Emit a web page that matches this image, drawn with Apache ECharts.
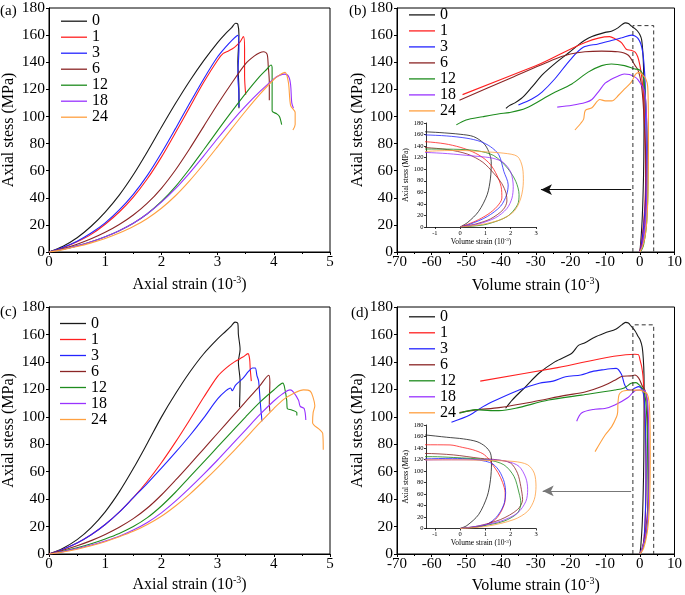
<!DOCTYPE html>
<html><head><meta charset="utf-8">
<script src="https://cdn.jsdelivr.net/npm/echarts@6/dist/echarts.min.js"></script>
<style>html,body{margin:0;padding:0;background:#fff}#c{width:685px;height:595px}</style>
</head><body><div id="c"></div>
<script>
// ---------- DATA ----------
const seriesNames = ['0','1','3','6','12','18','24'];
const seriesColors = ['#1a1a1a','#ff2020','#2424ff','#8b2525','#1e8c1e','#9933ff','#ffa040'];

// panel (a): axial strain (1e-3) vs axial stress (MPa)
const a0 = [[0,0],[0.25,4.25],[0.5,10.5],[0.75,19],[1.0,29.5],[1.25,42],[1.5,57],[1.75,74],[2.0,92],[2.25,109.5],[2.5,126],[2.75,141],[3.0,154.5],[3.15,161.5],[3.25,165.5],[3.32,168.7],[3.36,168],[3.38,160],[3.36,140],[3.38,120],[3.38,106]];
const a1 = [[0,0],[0.25,3.2],[0.5,7.5],[0.75,13],[1.0,20.5],[1.25,29.5],[1.5,40.5],[1.75,54],[2.0,70],[2.25,88],[2.5,106.5],[2.75,125],[3.0,141.5],[3.1,146.5],[3.2,148.5],[3.3,151],[3.4,155],[3.46,158.9],[3.48,150],[3.48,130],[3.5,116]];
const a3 = [[0,0],[0.25,3.5],[0.5,8],[0.75,14],[1.0,21.5],[1.25,31],[1.5,42.5],[1.75,56.5],[2.0,73],[2.25,91],[2.5,109.5],[2.75,127.5],[3.0,144],[3.15,151.5],[3.25,156],[3.36,159.8],[3.38,150],[3.36,130],[3.38,115],[3.38,107]];
const a6 = [[0,0],[0.25,2.5],[0.5,5.75],[0.75,9.75],[1.0,14.5],[1.25,20.25],[1.5,27.25],[1.75,36],[2.0,47],[2.25,60.5],[2.5,76],[2.75,92.5],[3.0,109],[3.25,124.5],[3.5,139],[3.65,144.5],[3.75,147],[3.82,147.7],[3.88,146],[3.9,138],[3.92,125],[3.92,112]];
const a12 = [[0,0],[0.25,2],[0.5,4.5],[0.75,7.5],[1.0,11.25],[1.25,15.75],[1.5,21.25],[1.75,28.25],[2.0,37.25],[2.25,48.25],[2.5,61.25],[2.75,75.25],[3.0,89.5],[3.25,103.5],[3.5,117],[3.75,129.5],[3.88,135],[3.95,138],[3.97,136],[3.97,120],[3.97,104],[4.05,102],[4.1,100],[4.14,94]];
const a18 = [[0,0],[0.25,2],[0.5,4.5],[0.75,7.5],[1.0,11.25],[1.25,15.75],[1.5,21.25],[1.75,28.25],[2.0,36.75],[2.25,46.75],[2.5,58.25],[2.75,70.75],[3.0,83.75],[3.25,96.25],[3.5,107.75],[3.75,118.25],[4.0,127.75],[4.1,130.3],[4.2,131.2],[4.27,129],[4.3,123],[4.32,110],[4.35,106]];
const a24 = [[0,0],[0.25,1.75],[0.5,4],[0.75,6.75],[1.0,10],[1.25,14],[1.5,18.75],[1.75,24.75],[2.0,32.25],[2.25,41.5],[2.5,52.5],[2.75,64.75],[3.0,77.75],[3.25,91],[3.5,104],[3.75,116.25],[4.0,127.25],[4.1,130.5],[4.2,132.5],[4.26,125],[4.3,108],[4.38,103],[4.38,94],[4.34,90]];

// panel (b): volume strain (1e-3) vs axial stress (MPa), also used by inset
const b0 = [[0,0],[0.3,8],[0.73,27],[1.07,56],[1.2,84.6],[1.23,113],[1.13,130.6],[0.93,145],[0.53,156.5],[0,160.5],[-0.8,163.4],[-1.5,165],[-2.4,166.6],[-3.3,168.5],[-4.1,169],[-5,168],[-6.2,165.5],[-8,163],[-10,162],[-13.8,159],[-16,156],[-17.6,153],[-20.5,147],[-24.5,139],[-28,131],[-31,122],[-33.8,114],[-36,110],[-37.6,108],[-38.6,106]];
const b1 = [[0,0],[0.6,10],[1.1,22],[1.45,35],[1.65,50],[1.62,70],[1.45,90],[1.2,108],[0.9,120],[0.5,130],[0,138],[-0.6,144],[-1.35,147.5],[-2.5,148.8],[-3.9,149.6],[-5.3,154.5],[-7.2,157.4],[-8.7,158.9],[-30,137.4],[-51.1,116.1]];
const b3 = [[0,0],[0.4,5],[1.07,18],[1.6,36],[1.84,56],[1.9,73],[1.73,96],[1.53,125],[1.2,139],[0.8,148],[0.27,153.6],[-0.53,157.6],[-1.4,159.4],[-2.4,160],[-5.2,158],[-8.2,156],[-12,153.5],[-16.3,151],[-20,142],[-24.4,128],[-28.2,118],[-31,113],[-35,108.4]];
const b6 = [[0,0],[0.6,5],[1.2,14],[1.7,30],[1.85,45],[1.82,58],[1.65,75],[1.35,92],[0.9,112],[0.3,126],[-0.5,134],[-1.35,137.5],[-3.4,145.3],[-6.3,147.7],[-11,148.2],[-15.8,147.7],[-20,146],[-24.4,142.4],[-38,127.5],[-52,112]];
const b12 = [[0,0],[0.5,1.5],[1.07,5],[1.87,18.4],[2.27,38.5],[2.33,56],[2.2,79],[1.87,102],[1.33,123.6],[0.67,132],[-0.27,134.6],[-1.4,135],[-4.4,137.5],[-8.2,138.7],[-11,137.5],[-14.9,132.7],[-19.6,124],[-25.3,116.8],[-32.9,106],[-37.7,102.8],[-40.5,102],[-45.3,99.8],[-50.1,97.4],[-52.9,93.8]];
const b18 = [[0,0],[0.7,5],[1.4,16],[1.85,32],[2.05,50],[2.1,70],[2.0,95],[1.7,112],[1.3,119],[1.0,121],[0.5,123],[-0.5,127],[-1.35,129],[-3,131],[-4.5,131.3],[-6.5,129.5],[-8.5,127],[-10,124.5],[-12,118],[-13.8,112.5],[-15.7,110.3],[-19.5,108.3],[-23.8,106.9]];
const b24 = [[0,0],[0.8,4],[1.6,12.7],[2.13,27],[2.4,50],[2.5,79],[2.47,102],[2.27,122],[1.73,127.7],[0.8,130.6],[0,132.5],[-0.8,132],[-1.4,130.5],[-2.4,125.5],[-4.3,120.5],[-6,116],[-8.1,111.5],[-10,111.5],[-11.5,112.5],[-13.8,106.4],[-15.7,104.5],[-16.2,98],[-17,95],[-18.7,90]];

// panel (c)
const c0 = [[0,0],[0.25,4.25],[0.5,10.5],[0.75,19.25],[1.0,30.75],[1.25,45.25],[1.5,62.25],[1.75,80.75],[2.0,99.75],[2.25,116.75],[2.5,132.25],[2.75,145.75],[3.0,156.75],[3.15,162.5],[3.25,166.5],[3.31,169],[3.36,168],[3.37,160],[3.4,149],[3.37,140],[3.4,126],[3.39,107]];
const c1 = [[0,0],[0.25,3.5],[0.5,8],[0.75,14],[1.0,21.5],[1.25,30.5],[1.5,41],[1.75,53],[2.0,66.5],[2.25,81.5],[2.5,97.5],[2.75,114],[3.0,129.5],[3.15,135.5],[3.3,140],[3.45,143.5],[3.54,146],[3.57,142],[3.58,135],[3.6,126]];
const c3 = [[0,0],[0.25,3.5],[0.5,8],[0.75,14],[1.0,21.5],[1.25,30.5],[1.5,41],[1.75,51.5],[2.0,62.5],[2.25,74],[2.5,86],[2.75,99],[3.0,113],[3.15,119],[3.23,121],[3.26,119],[3.32,123],[3.45,128],[3.55,133],[3.62,135.5],[3.67,135.5],[3.7,130],[3.73,126],[3.76,110],[3.79,96.7]];
const c6 = [[0,0],[0.25,2.75],[0.5,6],[0.75,9.75],[1.0,14.25],[1.25,19.5],[1.5,25.75],[1.75,33.5],[2.0,43],[2.25,53.75],[2.5,65],[2.75,76.5],[3.0,88],[3.25,99.5],[3.5,111],[3.75,122.5],[3.91,130.3],[3.93,125],[3.92,110],[3.93,103.8]];
const c12 = [[0,0],[0.25,2],[0.5,4.5],[0.75,7.5],[1.0,11],[1.25,15],[1.5,20],[1.75,26.5],[2.0,35],[2.25,45],[2.5,56],[2.75,67],[3.0,78],[3.25,89],[3.5,100],[3.75,110.5],[4.0,119.5],[4.16,124.5],[4.2,119.6],[4.23,112],[4.24,106],[4.32,105],[4.41,103],[4.41,101]];
const c18 = [[0,0],[0.25,1.75],[0.5,4],[0.75,6.5],[1.0,9.5],[1.25,13],[1.5,17.5],[1.75,23],[2.0,30],[2.25,38.5],[2.5,48],[2.75,58],[3.0,68.5],[3.25,79.5],[3.5,90.5],[3.75,101.5],[4.0,111.5],[4.15,116.5],[4.29,119.6],[4.35,118],[4.44,112],[4.47,107.6],[4.54,106],[4.57,97.6]];
const c24 = [[0,0],[0.25,1.5],[0.5,3.5],[0.75,6],[1.0,9],[1.25,12.5],[1.5,16.5],[1.75,21.5],[2.0,27.5],[2.25,35],[2.5,43.5],[2.75,53],[3.0,63],[3.25,73.5],[3.5,84.5],[3.75,95.5],[4.0,106],[4.17,112.5],[4.35,117],[4.53,119.6],[4.65,118.6],[4.7,113.9],[4.73,108],[4.7,103],[4.69,95.6],[4.82,90.5],[4.87,88],[4.88,76]];

// panel (d), also used by inset
const d0 = [[0,0],[0.27,5.2],[0.73,24.2],[1.07,56],[1.2,84.8],[1.24,113.7],[1.2,131],[1.0,142.5],[0.67,151],[0.13,155.8],[-0.53,158.7],[-1.4,162.7],[-2.5,166],[-3.3,168.3],[-4.1,168.8],[-5.2,167],[-6.8,164],[-10.1,161],[-13,158],[-15.8,153.9],[-17.7,152],[-19.6,146.3],[-24.4,140.2],[-29.1,131.7],[-32.9,122],[-36.8,112.2],[-38.7,106.2]];
const d1 = [[0,0],[0.5,2],[1.0,6],[1.4,16],[1.65,32],[1.78,50],[1.78,62],[1.68,80],[1.5,97],[1.3,110],[1.15,120],[0.9,130],[0.5,137],[0.1,141],[-0.4,145.3],[-1.4,145.6],[-23.7,135.8],[-46,126]];
const d3 = [[0,0],[0.5,2],[1.0,6],[1.35,16],[1.6,30],[1.75,45],[1.8,62],[1.75,80],[1.55,100],[1.3,112],[1.0,117],[0.5,120.5],[-0.3,122],[-1.4,121],[-2.5,119.5],[-3.4,119.6],[-4.4,123.5],[-5.3,131],[-6.8,135.3],[-8.5,135],[-10,134.5],[-13.8,132.9],[-17,130.5],[-21.4,129.2],[-25,126],[-29,124.4],[-34.8,119.5],[-41.4,112.2],[-45.2,107.4],[-49,101.3],[-54.3,96]];
const d6 = [[0,0],[0.67,4],[1.6,15.6],[2.27,33],[2.47,50],[2.4,73],[2.27,96],[2.0,113.7],[1.47,119.4],[0.8,122],[-0.27,128],[-1.4,130.5],[-2.5,129.8],[-5,129.5],[-7.2,126.6],[-11,122],[-15.8,118],[-21.5,115.6],[-31,110.8],[-40.6,106.7],[-47.2,105],[-52,103]];
const d12 = [[0,0],[0.8,4],[1.73,12.7],[2.27,27],[2.4,44.4],[2.33,61.7],[2.13,90.6],[1.73,110.8],[1.07,119.4],[-0.27,123.5],[-1.1,124.9],[-2.5,124.4],[-4.5,121],[-7.2,119.5],[-16.8,115.8],[-26.3,112.2],[-35.8,106.2],[-40.6,104.5],[-43,104.5],[-47.2,105.2],[-52,102.6]];
const d18 = [[0,0],[0.67,4],[1.6,12.7],[2.27,27],[2.6,47.3],[2.67,67.5],[2.6,87.7],[2.33,108],[1.87,116.6],[1.3,119.3],[0,119.5],[-1.4,119],[-3.4,114],[-7.2,108.6],[-10.1,106],[-13,105.5],[-16.8,102.8],[-18.2,96.7]];
const d24 = [[0,0],[1.07,4],[2.13,15.6],[2.67,30],[2.93,50.2],[3.0,73.3],[2.93,96.4],[2.67,110.8],[2.13,116.6],[1.07,118.3],[0,119.4],[-1.4,119.4],[-2.5,119.5],[-4.4,119],[-5.2,118.3],[-6,116],[-6.3,110],[-6.4,103],[-6.7,100],[-8.1,92.8],[-10,86.7],[-12.9,74.6]];

// annotations
const zoomBox = [[-2,0],[-2,167],[4,167],[4,0]];
const arrowB = [[-2.5,46],[-28.5,46]];
const arrowD = [[-2.5,46],[-28,46]];

// tick labels
const insetXTicks = [-1,0,1,2,3];

// ---------- CHART ----------
const FONT = '"Liberation Serif", "Times New Roman", serif';
const chart = echarts.init(document.getElementById('c'), null, {renderer:'canvas'});

function nameRich(size, supSize, lh) {
  return {
    fontFamily: FONT, fontSize: size, color: '#000',
    rich: {
      n: {fontFamily: FONT, fontSize: size, color: '#000', lineHeight: lh},
      s: {fontFamily: FONT, fontSize: supSize, color: '#000', verticalAlign: 'top', lineHeight: supSize + 1}
    }
  };
}
function mainX(gi, min, max, interval, title, gap) {
  return {
    gridIndex: gi, type: 'value', min, max, interval,
    name: '{n|' + title + ' (10}{s|-3}{n|)}', nameLocation: 'middle', nameGap: gap,
    nameTextStyle: nameRich(16, 10, 20),
    axisLine: {show: true, onZero: false, lineStyle: {color: '#000', width: 1}},
    axisTick: {show: true, inside: false, length: 3, lineStyle: {color: '#000'}},
    minorTick: {show: true, splitNumber: 2, length: 2, lineStyle: {color: '#000'}},
    axisLabel: {fontFamily: FONT, fontSize: 15, color: '#000', margin: 3},
    splitLine: {show: false}, minorSplitLine: {show: false}
  };
}
function mainY(gi, gap) {
  return {
    gridIndex: gi, type: 'value', min: 0, max: 180, interval: 20,
    name: 'Axial stess (MPa)', nameLocation: 'middle', nameGap: gap,
    nameTextStyle: {fontFamily: FONT, fontSize: 16, color: '#000'},
    axisLine: {show: true, onZero: false, lineStyle: {color: '#000', width: 1}},
    axisTick: {show: true, inside: false, length: 3, lineStyle: {color: '#000'}},
    axisLabel: {fontFamily: FONT, fontSize: 15.5, color: '#000', margin: 4},
    splitLine: {show: false}
  };
}
function insetX(gi, gap) {
  return {
    gridIndex: gi, type: 'value', min: -1.35, max: 3,
    name: '{n|Volume strain (10}{s|-3}{n|)}', nameLocation: 'middle', nameGap: gap,
    nameTextStyle: nameRich(7.5, 5, 9),
    axisLine: {show: true, onZero: false, lineStyle: {color: '#000', width: 0.8}},
    axisTick: {show: true, length: 2, customValues: insetXTicks, lineStyle: {color: '#000', width: 0.8}},
    axisLabel: {fontFamily: FONT, fontSize: 6.5, color: '#000', margin: 2.5, customValues: insetXTicks},
    splitLine: {show: false}
  };
}
function insetY(gi, gap) {
  return {
    gridIndex: gi, type: 'value', min: 0, max: 180, interval: 20,
    name: 'Axial stess (MPa)', nameLocation: 'middle', nameGap: gap,
    nameTextStyle: {fontFamily: FONT, fontSize: 7.5, color: '#000'},
    axisLine: {show: true, onZero: false, lineStyle: {color: '#000', width: 0.8}},
    axisTick: {show: true, length: 2, lineStyle: {color: '#000', width: 0.8}},
    axisLabel: {fontFamily: FONT, fontSize: 6.5, color: '#000', margin: 2.5},
    splitLine: {show: false}
  };
}

const grids = [
  {left: 48, top: 5, width: 282, height: 247},
  {left: 397, top: 5, width: 280, height: 247},
  {left: 48, top: 307, width: 282, height: 247},
  {left: 397, top: 307, width: 281, height: 247},
  {left: 426, top: 123, width: 110, height: 104},
  {left: 426, top: 425, width: 110, height: 103.5}
].map((g, i) => Object.assign(g, i < 4 ? {show: true, borderColor: '#000', borderWidth: 1, backgroundColor: 'transparent'} : {show: false}));

const xAxes = [
  mainX(0, 0, 5, 1, 'Axial strain', 23),
  mainX(1, -70, 10, 10, 'Volume strain', 24),
  mainX(2, 0, 5, 1, 'Axial strain', 21),
  mainX(3, -70, 10, 10, 'Volume strain', 22),
  insetX(4, 7.5),
  insetX(5, 8.5)
];
const yAxes = [mainY(0, 32), mainY(1, 30), mainY(2, 32), mainY(3, 30), insetY(4, 9), insetY(5, 9)];

const series = [];
function addPanel(arrs, axisIdx, width) {
  arrs.forEach((d, i) => {
    series.push({
      type: 'line', name: seriesNames[i], data: d,
      xAxisIndex: axisIdx, yAxisIndex: axisIdx,
      showSymbol: false, symbol: 'none', smooth: 0.3, clip: true,
      lineStyle: {color: seriesColors[i], width: width},
      itemStyle: {color: seriesColors[i]},
      emphasis: {disabled: true}, silent: true
    });
  });
}
const A = [a0,a1,a3,a6,a12,a18,a24];
const B = [b0,b1,b3,b6,b12,b18,b24];
const C = [c0,c1,c3,c6,c12,c18,c24];
const D = [d0,d1,d3,d6,d12,d18,d24];
addPanel(A, 0, 1.1);
addPanel(B, 1, 1.1);
addPanel(C, 2, 1.1);
addPanel(D, 3, 1.1);
addPanel(B, 4, 0.8);
addPanel(D, 5, 0.8);

function annot(ax, arrow, arrowColor) {
  series.push({
    type: 'line', name: 'box' + ax, data: zoomBox, xAxisIndex: ax, yAxisIndex: ax,
    showSymbol: false, symbol: 'none', silent: true,
    lineStyle: {color: '#333', width: 1, type: [4, 3]}
  });
  series.push({
    type: 'line', name: 'arrow' + ax, data: [], xAxisIndex: ax, yAxisIndex: ax, silent: true,
    markLine: {
      silent: true, symbol: ['none', 'arrow'], symbolSize: [8, 11],
      label: {show: false},
      lineStyle: {color: arrowColor, width: 1.2, type: 'solid'},
      data: [[{coord: arrow[0]}, {coord: arrow[1]}]]
    }
  });
}
annot(1, arrowB, '#111');
annot(3, arrowD, '#777');

function legend(left, top, lh) {
  return {
    data: seriesNames, orient: 'vertical', left, top, padding: 0, itemGap: 0,
    icon: 'rect', itemWidth: 26, itemHeight: 1.3, selectedMode: false,
    textStyle: {fontFamily: FONT, fontSize: 16, color: '#000', lineHeight: lh}
  };
}

const option = {
  animation: false,
  backgroundColor: '#fff',
  grid: grids,
  xAxis: xAxes,
  yAxis: yAxes,
  legend: [legend(61, 13.2, 13.6), legend(409, 6.9, 14.3), legend(60, 315.5, 14.3), legend(409, 308.8, 14.4)],
  series: series,
  graphic: [
    {type: 'text', left: 0, top: 4, style: {text: '(a)', font: '15px ' + FONT, fill: '#000'}},
    {type: 'text', left: 349, top: 4, style: {text: '(b)', font: '15px ' + FONT, fill: '#000'}},
    {type: 'text', left: 0, top: 305, style: {text: '(c)', font: '15px ' + FONT, fill: '#000'}},
    {type: 'text', left: 351, top: 306, style: {text: '(d)', font: '15px ' + FONT, fill: '#000'}}
  ]
};
chart.setOption(option);
</script>
</body></html>
